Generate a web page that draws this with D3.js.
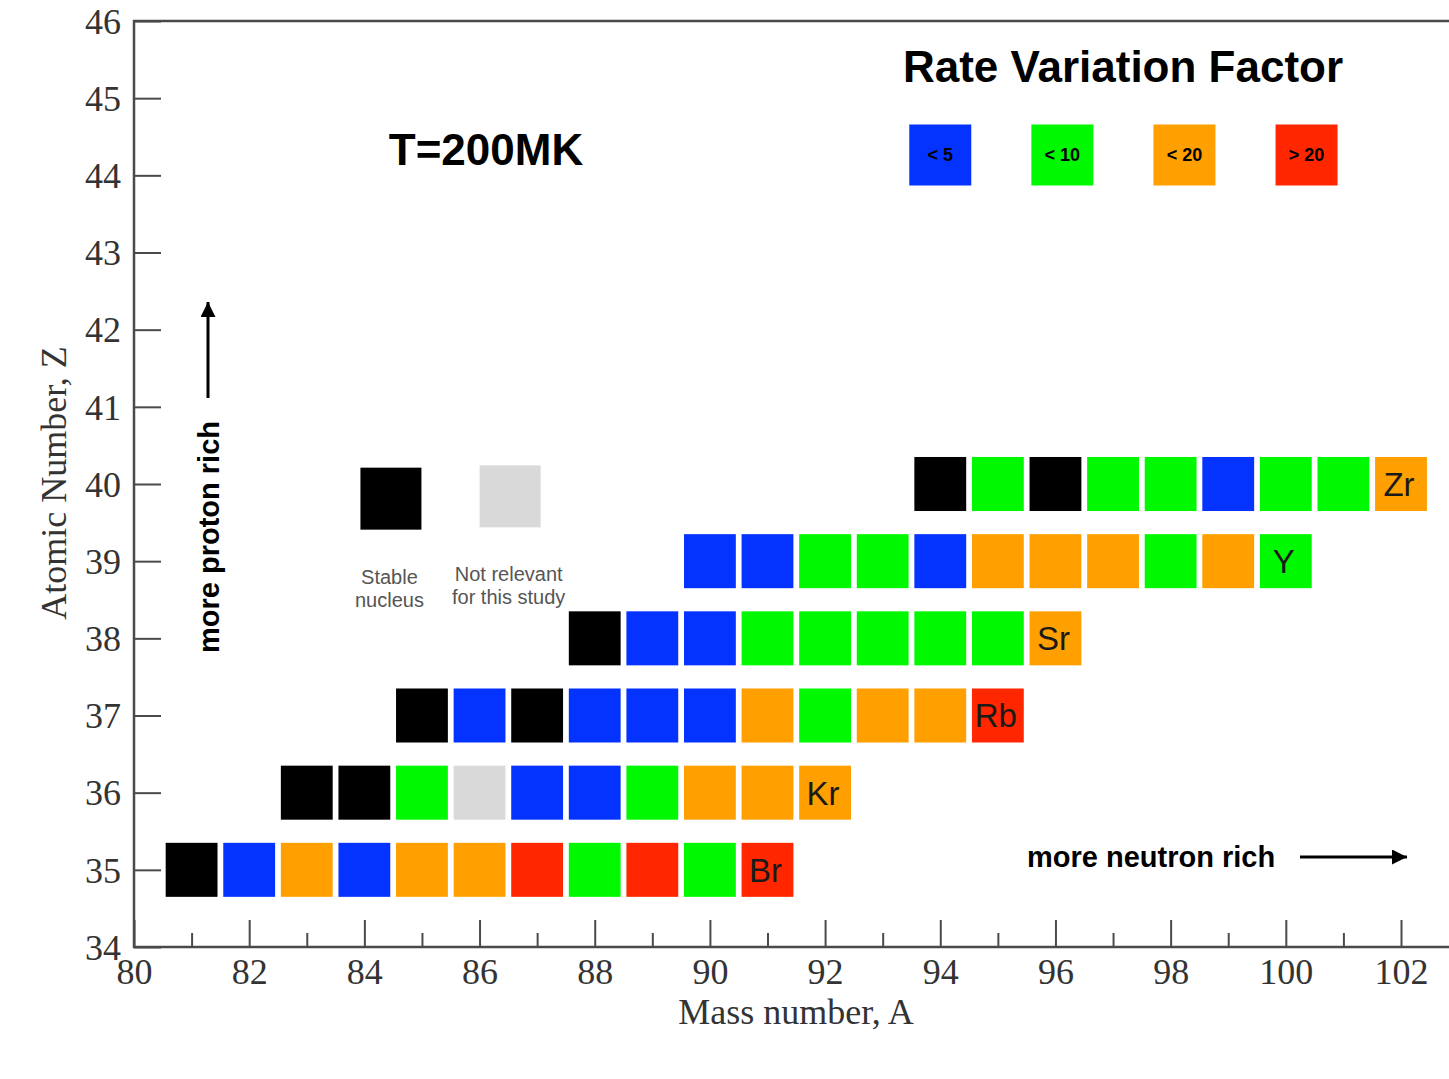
<!DOCTYPE html>
<html>
<head>
<meta charset="utf-8">
<script src="https://cdn.jsdelivr.net/npm/d3@7"></script>
<style>
  body { margin: 0; background: #fff; }
  .rotulo { font-family: 'Liberation Serif', 'DejaVu Serif', serif; font-size: 36px; fill: #333; }
  .tituloeixo { font-family: 'Liberation Serif', 'DejaVu Serif', serif; font-size: 36px; fill: #333; }
  .sans { font-family: 'Liberation Sans', Arial, sans-serif; }
</style>
</head>
<body>
<svg id="grafico"></svg>
<script>
// Dados: linhas do diagrama (Z), número de massa inicial e fator de cada núcleo
// S = estável, N = não relevante, b = <5, g = <10, o = <20, r = >20
var linhasZ   = [35, 36, 37, 38, 39, 40];
var inicioA   = [81, 83, 85, 88, 90, 94];
var elementos = ['Br', 'Kr', 'Rb', 'Sr', 'Y', 'Zr'];
var fatores = [
  ['S','b','o','b','o','o','r','g','r','g','r'],
  ['S','S','g','N','b','b','g','o','o','o'],
  ['S','b','S','b','b','b','o','g','o','o','r'],
  ['S','b','b','g','g','g','g','g','o'],
  ['b','b','g','g','b','o','o','o','g','o','g'],
  ['S','g','S','g','g','b','g','g','o']
];

var codigos      = ['S', 'N', 'b', 'g', 'o', 'r'];
var coresCodigos = ['#000000', '#d9d9d9', '#0433ff', '#00f900', '#ffa000', '#ff2600'];

var codigosFator = ['b', 'g', 'o', 'r'];
var rotulosFator = ['< 5', '< 10', '< 20', '> 20'];

var ticksX      = [80, 82, 84, 86, 88, 90, 92, 94, 96, 98, 100, 102];
var ticksXMenor = [81, 83, 85, 87, 89, 91, 93, 95, 97, 99, 101];
var ticksY      = [34, 35, 36, 37, 38, 39, 40, 41, 42, 43, 44, 45, 46];

var largura = 1449, altura = 1079;

var svg = d3.select('#grafico')
            .attr('width', largura)
            .attr('height', altura);

// Escalas
var x = d3.scaleLinear().domain([80, 102]).range([134, 1401]);
var y = d3.scaleLinear().domain([34, 46]).range([947, 21]);
var cor = d3.scaleOrdinal().domain(codigos).range(coresCodigos);

// Monta a lista de células a partir das linhas
var celulas = [];
linhasZ.forEach(function(z, i) {
  fatores[i].forEach(function(c, j) {
    celulas.push({ z: z, a: inicioA[i] + j, codigo: c,
                   simbolo: j == fatores[i].length - 1 ? elementos[i] : null });
  });
});

var corEixo = '#4a4a4a';

// Eixos com marcas voltadas para dentro
var eixoX = d3.axisBottom(x).tickValues(ticksX).tickSize(-27).tickPadding(0);
var gx = svg.append('g')
            .attr('transform', 'translate(0,' + y(34) + ')')
            .call(eixoX);
gx.select('.domain').remove();
gx.selectAll('.tick line').attr('stroke', corEixo).attr('stroke-width', 2);
gx.selectAll('.tick text')
  .attr('class', 'rotulo')
  .attr('y', 37)
  .attr('dy', 0);

var eixoXMenor = d3.axisBottom(x).tickValues(ticksXMenor).tickSize(-14).tickFormat('');
var gxm = svg.append('g')
             .attr('transform', 'translate(0,' + y(34) + ')')
             .call(eixoXMenor);
gxm.select('.domain').remove();
gxm.selectAll('.tick line').attr('stroke', corEixo).attr('stroke-width', 2);

var eixoY = d3.axisLeft(y).tickValues(ticksY).tickSize(-27).tickPadding(13);
var gy = svg.append('g')
            .attr('transform', 'translate(' + x(80) + ',0)')
            .call(eixoY);
gy.select('.domain').remove();
gy.selectAll('.tick line').attr('stroke', corEixo).attr('stroke-width', 2);
gy.selectAll('.tick text')
  .attr('class', 'rotulo')
  .attr('dy', '0.34em');

// Moldura (o lado direito fica fora da imagem)
svg.append('path')
   .attr('d', 'M' + (largura + 5) + ',' + y(46) + 'H' + x(80) + 'V' + y(34) + 'H' + (largura + 5))
   .attr('fill', 'none')
   .attr('stroke', corEixo)
   .attr('stroke-width', 2.5);

// Títulos dos eixos
svg.append('text')
   .attr('class', 'tituloeixo')
   .attr('x', 796)
   .attr('y', 1024)
   .style('text-anchor', 'middle')
   .text('Mass number, A');
svg.append('text')
   .attr('class', 'tituloeixo')
   .attr('transform', 'translate(66,483) rotate(-90)')
   .style('text-anchor', 'middle')
   .text('Atomic Number, Z');

// Células do diagrama de nuclídeos
var larguraCel = x(80.9) - x(80);
var alturaCel  = y(34) - y(34.7);
svg.selectAll('.celula')
   .data(celulas)
   .enter()
   .append('rect')
   .classed('celula', true)
   .attr('x', d => x(d.a) - larguraCel / 2)
   .attr('y', d => y(d.z) - alturaCel / 2)
   .attr('width', larguraCel)
   .attr('height', alturaCel)
   .attr('fill', d => cor(d.codigo));

svg.selectAll('.simbolo')
   .data(celulas.filter(d => d.simbolo))
   .enter()
   .append('text')
   .classed('simbolo sans', true)
   .attr('x', d => x(d.a) - 2)
   .attr('y', d => y(d.z))
   .attr('dy', '0.36em')
   .style('text-anchor', 'middle')
   .style('font-size', '33px')
   .attr('fill', '#1a1a1a')
   .text(d => d.simbolo);

// Títulos e legendas
svg.append('text')
   .classed('sans', true)
   .attr('x', 1123)
   .attr('y', 82)
   .style('text-anchor', 'middle')
   .style('font-size', '44px')
   .style('font-weight', 'bold')
   .text('Rate Variation Factor');

svg.append('text')
   .classed('sans', true)
   .attr('x', 486)
   .attr('y', 165)
   .style('text-anchor', 'middle')
   .style('font-size', '44px')
   .style('font-weight', 'bold')
   .text('T=200MK');

var legenda = svg.selectAll('.legenda')
                 .data(codigosFator)
                 .enter()
                 .append('g')
                 .classed('legenda', true)
                 .attr('transform', (d, i) => 'translate(' + x(94 + i * 2.12) + ',' + y(44.27) + ')');
legenda.append('rect')
       .attr('x', -31)
       .attr('y', -30)
       .attr('width', 62)
       .attr('height', 61)
       .attr('fill', d => cor(d));
legenda.append('text')
       .classed('sans', true)
       .attr('y', 7)
       .style('text-anchor', 'middle')
       .style('font-size', '18px')
       .style('font-weight', 'bold')
       .text((d, i) => rotulosFator[i]);

// Legenda de núcleos estáveis / não relevantes
var outros = [
  { codigo: 'S', a: 84.47, z: 39.81, linhas: ['Stable', 'nucleus'] },
  { codigo: 'N', a: 86.54, z: 39.84, linhas: ['Not relevant', 'for this study'] }
];
var gOutros = svg.selectAll('.outros')
                 .data(outros)
                 .enter()
                 .append('g')
                 .attr('transform', d => 'translate(' + x(d.a) + ',' + y(d.z) + ')');
gOutros.append('rect')
       .attr('x', -31)
       .attr('y', -31)
       .attr('width', 61)
       .attr('height', 62)
       .attr('fill', d => cor(d.codigo));
gOutros.each(function(d) {
  var g = d3.select(this);
  d.linhas.forEach(function(t, k) {
    g.append('text')
     .classed('sans', true)
     .attr('x', -2)
     .attr('y', 85 + k * 23)
     .style('text-anchor', 'middle')
     .style('font-size', '20px')
     .attr('fill', '#555')
     .text(t);
  });
});

// Setas indicativas
svg.append('defs')
   .append('marker')
   .attr('id', 'ponta')
   .attr('viewBox', '0 0 10 10')
   .attr('refX', 10)
   .attr('refY', 5)
   .attr('markerWidth', 5)
   .attr('markerHeight', 5)
   .attr('orient', 'auto')
   .append('path')
   .attr('d', 'M0,0L10,5L0,10Z')
   .attr('fill', '#000');

svg.append('line')
   .attr('x1', 208).attr('y1', 398)
   .attr('x2', 208).attr('y2', 302)
   .attr('stroke', '#000')
   .attr('stroke-width', 3)
   .attr('marker-end', 'url(#ponta)');
svg.append('text')
   .classed('sans', true)
   .attr('transform', 'translate(219,537) rotate(-90)')
   .style('text-anchor', 'middle')
   .style('font-size', '29px')
   .style('font-weight', 'bold')
   .text('more proton rich');

svg.append('line')
   .attr('x1', 1300).attr('y1', 857)
   .attr('x2', 1407).attr('y2', 857)
   .attr('stroke', '#000')
   .attr('stroke-width', 3)
   .attr('marker-end', 'url(#ponta)');
svg.append('text')
   .classed('sans', true)
   .attr('x', 1027)
   .attr('y', 867)
   .style('font-size', '29px')
   .style('font-weight', 'bold')
   .text('more neutron rich');
</script>
</body>
</html>
